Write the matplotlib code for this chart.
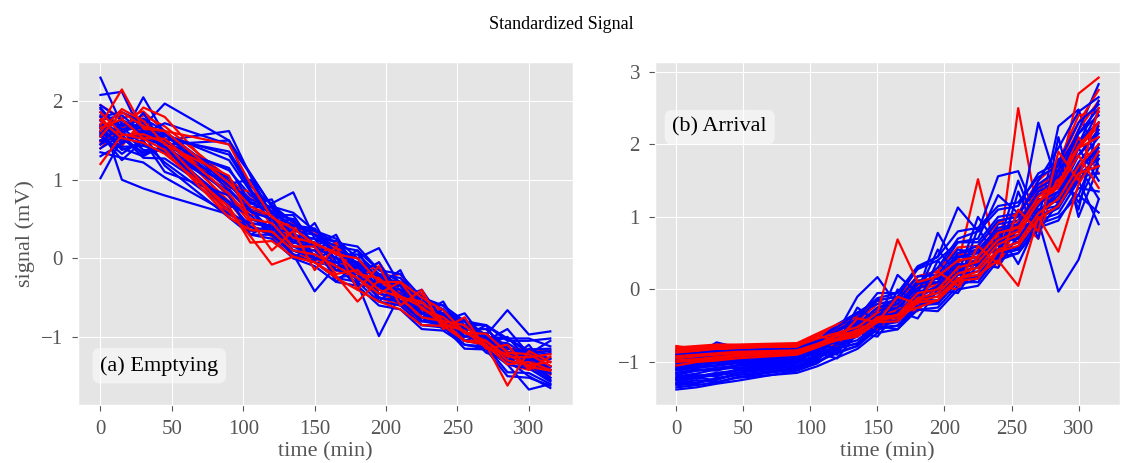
import numpy as np
import matplotlib
matplotlib.use("Agg")
import matplotlib.pyplot as plt

plt.style.use("ggplot")
plt.rcParams['font.family'] = ['Liberation Serif', 'DejaVu Serif']

# sampling times (min)
times = [0, 15, 30, 45, 90, 105, 120, 135, 150, 165, 180, 195, 210, 225, 240, 255, 270, 285, 300, 315]

# (a) Emptying
empty_blue = [
    [2.30, 1.70, 1.62, 1.38, 0.95, 0.62, 0.55, 0.28, 0.18, -0.05, -0.12, -0.40, -0.42, -0.70, -0.78, -0.95, -1.00, -1.22, -1.30, -1.52],
    [2.08, 2.12, 1.55, 1.50, 1.62, 1.05, 0.55, 0.50, 0.15, 0.18, -0.15, -0.22, -0.50, -0.55, -0.82, -0.85, -1.05, -1.08, -1.25, -1.28],
    [1.02, 1.52, 1.35, 1.38, 0.72, 0.60, 0.32, 0.30, -0.02, 0.02, -0.28, -0.30, -0.60, -0.65, -0.90, -0.92, -1.10, -1.12, -1.35, -1.38],
    [1.70, 1.55, 2.05, 1.58, 1.25, 0.85, 0.70, 0.84, 0.25, 0.22, -0.08, -0.12, -0.45, -0.48, -0.75, -0.80, -1.00, -1.02, -1.18, -1.22],
    [1.55, 1.62, 1.68, 1.97, 1.50, 1.08, 0.66, 0.58, 0.35, 0.25, 0.00, 0.13, -0.35, -0.45, -0.75, -0.78, -0.98, -0.66, -0.97, -0.93],
    [1.82, 1.00, 0.89, 0.80, 0.56, 0.40, 0.35, 0.10, 0.00, -0.15, -0.25, -0.50, -0.55, -0.85, -0.88, -1.05, -1.08, -1.30, -1.38, -1.55],
    [1.65, 1.38, 1.47, 1.22, 0.62, 0.35, 0.35, 0.05, -0.42, -0.10, -0.32, -0.99, -0.45, -0.75, -0.80, -1.05, -1.08, -1.35, -1.67, -1.60],
    [1.50, 1.66, 1.45, 1.35, 1.02, 0.70, 0.60, 0.25, 0.25, -0.10, -0.10, -0.40, -0.35, -0.60, -0.72, -0.95, -1.00, -1.25, -1.22, -1.38],
    [1.76, 1.82, 1.60, 1.58, 0.88, 0.60, 0.50, 0.30, 0.20, 0.00, -0.05, -0.30, -0.40, -0.65, -0.76, -1.00, -1.00, -1.15, -1.18, -1.28],
    [1.40, 1.57, 1.32, 1.42, 0.68, 0.55, 0.30, 0.25, -0.05, -0.10, -0.35, -0.35, -0.60, -0.70, -0.90, -0.92, -1.15, -1.20, -1.40, -1.42],
    [1.86, 1.68, 1.78, 1.62, 0.98, 0.75, 0.65, 0.35, 0.30, 0.05, 0.05, -0.20, -0.25, -0.55, -0.60, -0.90, -0.96, -1.20, -1.26, -1.38],
    [1.60, 1.48, 1.58, 1.18, 0.52, 0.30, 0.25, 0.00, -0.10, -0.30, -0.35, -0.60, -0.65, -0.90, -0.92, -1.10, -1.12, -1.45, -1.46, -1.60],
    [1.30, 1.46, 1.62, 1.48, 1.12, 0.80, 0.60, 0.40, 0.35, 0.20, 0.15, -0.15, -0.30, -0.55, -0.60, -0.80, -0.85, -1.02, -1.02, -1.12],
    [1.95, 1.76, 1.58, 1.72, 1.45, 1.07, 0.66, 0.45, 0.30, 0.20, -0.10, -0.20, -0.40, -0.50, -0.75, -0.80, -1.00, -1.02, -1.20, -1.18],
    [1.70, 1.62, 1.38, 1.37, 0.66, 0.62, 0.36, 0.34, 0.00, -0.05, -0.25, -0.35, -0.55, -0.60, -0.90, -0.92, -1.20, -1.30, -1.50, -1.65],
    [1.56, 1.33, 1.52, 1.44, 0.82, 0.50, 0.40, 0.20, 0.15, -0.25, -0.20, -0.50, -0.55, -0.80, -0.80, -1.05, -1.05, -1.30, -1.26, -1.42],
    [1.45, 1.72, 1.58, 1.56, 1.32, 0.88, 0.52, 0.28, 0.14, 0.00, -0.10, -0.35, -0.40, -0.70, -0.76, -0.95, -1.00, -1.25, -1.30, -1.52],
    [1.66, 1.55, 1.28, 1.27, 0.72, 0.40, 0.30, 0.05, -0.05, -0.25, -0.30, -0.55, -0.60, -0.85, -0.86, -1.15, -1.16, -1.50, -1.52, -1.62],
    [1.90, 1.64, 1.72, 1.58, 1.02, 0.65, 0.65, 0.30, 0.25, 0.10, 0.00, -0.25, -0.30, -0.50, -0.65, -0.90, -0.90, -1.15, -1.20, -1.32],
    [1.50, 1.42, 1.43, 1.36, 0.86, 0.60, 0.50, 0.15, 0.05, -0.10, -0.15, -0.40, -0.45, -0.75, -0.72, -1.00, -0.96, -1.20, -1.16, -1.15],
    [1.75, 1.48, 1.57, 1.43, 0.60, 0.30, 0.30, 0.10, 0.00, -0.05, -0.05, -0.45, -0.50, -0.70, -0.80, -1.05, -1.10, -1.25, -1.30, -1.47],
    [1.62, 1.76, 1.64, 1.62, 0.92, 0.72, 0.58, 0.42, 0.38, 0.05, -0.05, -0.25, -0.35, -0.65, -0.70, -0.95, -1.00, -1.30, -1.36, -1.52],
    [1.35, 1.28, 1.22, 1.03, 0.57, 0.45, 0.40, 0.10, 0.10, -0.15, -0.20, -0.50, -0.55, -0.80, -0.85, -1.10, -1.15, -1.35, -1.40, -1.57],
    [1.80, 1.86, 1.73, 1.52, 1.36, 0.92, 0.68, 0.46, 0.30, 0.15, 0.10, -0.15, -0.20, -0.50, -0.60, -0.85, -0.85, -1.05, -1.05, -1.02],
    [1.68, 1.40, 1.30, 1.45, 1.50, 0.85, 0.45, 0.50, 0.00, 0.10, -0.30, -0.20, -0.55, -0.50, -0.85, -0.80, -1.10, -1.00, -1.30, -1.20],
    [1.45, 1.60, 1.75, 1.35, 0.95, 1.00, 0.55, 0.55, 0.15, 0.30, -0.20, -0.05, -0.50, -0.40, -0.80, -0.70, -1.05, -0.90, -1.22, -1.05],
    [1.58, 1.25, 1.50, 1.10, 0.80, 0.30, 0.45, 0.00, 0.20, -0.30, -0.05, -0.55, -0.30, -0.80, -0.65, -1.05, -0.95, -1.35, -1.15, -1.55],
    [1.92, 1.58, 1.85, 1.42, 1.15, 0.70, 0.75, 0.20, 0.45, -0.05, 0.10, -0.35, -0.15, -0.70, -0.55, -1.00, -0.85, -1.30, -1.10, -1.45],
]
empty_red = [
    [1.70, 2.15, 1.65, 1.62, 1.45, 0.95, 0.52, 0.38, 0.18, 0.08, -0.20, -0.25, -0.50, -0.55, -0.80, -0.85, -1.10, -1.62, -1.18, -1.32],
    [1.95, 1.78, 1.87, 1.62, 0.78, 0.45, 0.40, 0.15, 0.10, -0.15, -0.20, -0.45, -0.55, -0.75, -0.80, -1.00, -1.00, -1.25, -1.28, -1.42],
    [1.20, 1.57, 1.58, 1.47, 0.60, 0.28, -0.08, 0.02, -0.05, -0.22, -0.55, -0.28, -0.48, -0.62, -0.84, -0.92, -1.14, -1.22, -1.38, -1.43],
    [1.60, 1.43, 1.77, 1.52, 0.88, 0.55, 0.55, 0.20, 0.20, -0.05, -0.10, -0.40, -0.45, -0.70, -0.72, -0.90, -0.96, -1.20, -1.22, -1.27],
    [1.86, 1.58, 1.52, 1.38, 0.52, 0.36, 0.34, 0.10, 0.05, -0.10, -0.25, -0.45, -0.30, -0.50, -0.66, -0.95, -1.05, -1.30, -1.36, -1.32],
    [1.50, 1.72, 1.58, 1.52, 0.72, 0.62, 0.50, 0.25, 0.15, 0.00, -0.05, -0.25, -0.20, -0.60, -0.70, -1.00, -1.00, -1.20, -1.26, -1.37],
    [1.76, 1.53, 1.47, 1.33, 0.66, 0.20, 0.22, 0.02, -0.05, -0.25, -0.40, -0.55, -0.65, -0.85, -0.86, -1.05, -1.10, -1.35, -1.32, -1.42],
    [1.40, 1.66, 1.82, 1.68, 1.02, 0.76, 0.64, 0.36, 0.34, 0.10, 0.00, -0.30, -0.35, -0.60, -0.66, -0.90, -0.90, -1.15, -1.16, -1.17],
    [1.66, 1.77, 1.53, 1.52, 0.82, 0.50, 0.45, 0.15, 0.15, -0.20, -0.15, -0.40, -0.50, -0.75, -0.80, -1.05, -1.05, -1.25, -1.26, -1.22],
    [1.80, 1.48, 1.67, 1.43, 0.56, 0.42, 0.28, 0.05, 0.00, -0.15, -0.25, -0.50, -0.60, -0.80, -0.80, -1.00, -1.00, -1.30, -1.36, -1.47],
    [1.55, 1.86, 1.68, 1.62, 0.96, 0.66, 0.54, 0.26, 0.20, 0.05, 0.00, -0.30, -0.30, -0.65, -0.75, -0.95, -0.96, -1.20, -1.22, -1.37],
    [1.70, 1.58, 1.52, 1.53, 0.72, 0.36, 0.34, 0.16, 0.10, -0.10, -0.15, -0.45, -0.50, -0.75, -0.80, -1.05, -1.06, -1.35, -1.42, -1.42],
    [1.62, 1.90, 1.75, 1.45, 1.05, 0.48, 0.10, 0.35, -0.15, 0.15, -0.40, -0.10, -0.60, -0.40, -0.90, -0.75, -1.15, -1.10, -1.42, -1.25],
    [1.48, 1.62, 1.92, 1.80, 0.90, 0.85, 0.40, 0.45, 0.00, 0.20, -0.30, -0.05, -0.45, -0.45, -0.78, -0.88, -1.02, -1.18, -1.30, -1.48],
]

# (b) Arrival
arrival_blue = [
    [-1.38, -1.35, -1.30, -1.26, -1.12, -1.02, -0.82, -0.74, -0.50, -0.45, -0.18, -0.20, 0.15, 0.18, 0.52, 0.58, 0.98, 1.12, 1.58, 1.80],
    [-1.30, -1.25, -1.28, -1.21, -1.10, -0.98, -0.72, -0.65, -0.40, -0.40, -0.12, -0.05, 0.25, 0.30, 0.65, 0.70, 1.10, 1.25, 1.75, 2.10],
    [-1.20, -1.16, -1.10, -1.08, -1.00, -0.92, -0.60, -0.10, 0.17, -0.22, -0.05, 0.78, 0.30, 0.42, 0.75, 0.80, 1.15, 1.45, 1.95, 2.45],
    [-0.95, -0.90, -0.73, -0.80, -0.85, -0.76, -0.55, -0.35, -0.12, -0.05, 0.30, 0.45, 1.13, 0.80, 1.56, 1.63, 0.95, 2.25, 2.48, 1.70],
    [-1.10, -1.06, -1.05, -1.00, -0.95, -0.86, -0.68, -0.62, -0.40, -0.35, -0.08, 0.05, 0.30, 0.35, 0.68, 0.85, 2.30, 1.40, 1.30, 2.00],
    [-1.15, -1.10, -1.12, -1.05, -0.98, -0.86, -0.80, -0.60, -0.55, -0.30, -0.25, 0.05, 0.10, 0.40, 0.45, 0.85, 0.95, -0.03, 0.41, 1.24],
    [-1.05, -1.00, -0.98, -0.95, -0.90, -0.82, -0.72, -0.58, -0.30, -0.25, 0.12, 0.15, 0.45, 0.45, 0.90, 0.95, 1.30, 1.55, 2.20, 2.83],
    [-1.25, -1.20, -1.15, -1.12, -1.05, -0.99, -0.88, -0.78, -0.55, -0.50, -0.28, -0.25, 0.05, 0.15, 0.48, 0.55, 0.95, 1.05, 1.50, 0.90],
    [-0.98, -0.95, -0.92, -0.90, -0.85, -0.72, -0.48, -0.32, -0.20, -0.15, 0.18, 0.25, 0.65, 0.65, 1.00, 1.05, 1.45, 1.65, 2.00, 2.60],
    [-1.32, -1.30, -1.22, -1.18, -1.08, -1.01, -0.86, -0.78, -0.50, -0.55, -0.22, -0.20, 0.10, 0.10, 0.45, 0.50, 0.90, 1.00, 1.30, 1.06],
    [-1.08, -1.05, -1.00, -0.98, -0.92, -0.82, -0.62, -0.48, -0.25, -0.20, 0.08, 0.10, 0.50, 0.55, 0.85, 0.90, 1.35, 1.50, 2.05, 2.30],
    [-1.18, -1.12, -1.10, -1.05, -0.95, -0.89, -0.70, -0.58, -0.35, -0.35, -0.02, 0.00, 0.30, 0.40, 0.75, 0.65, 1.05, 1.25, 1.95, 1.50],
    [-0.92, -0.88, -0.85, -0.85, -0.82, -0.72, -0.58, -0.42, -0.15, -0.30, 0.08, 0.30, 0.70, 0.80, 1.10, 1.15, 1.60, 1.75, 2.30, 2.55],
    [-1.28, -1.22, -1.25, -1.15, -1.05, -0.94, -0.78, -0.70, -0.48, -0.42, -0.15, -0.15, 0.15, 0.20, 0.55, 0.65, 1.05, 1.30, 1.85, 2.20],
    [-1.02, -0.98, -0.95, -0.92, -0.88, -0.80, -0.66, -0.48, -0.25, -0.15, 0.18, 0.20, 0.55, 0.50, 0.80, 0.35, 0.95, 1.65, 1.20, 1.80],
    [-1.22, -1.18, -1.20, -1.10, -1.02, -0.92, -0.84, -0.62, -0.45, -0.35, -0.12, 0.05, 0.40, 0.45, 0.55, 0.85, 1.25, 1.20, 1.70, 1.90],
    [-1.12, -1.08, -1.05, -1.02, -0.96, -0.84, -0.66, -0.52, -0.30, -0.20, 0.08, 0.15, 0.50, 0.60, 0.95, 1.00, 1.50, 1.95, 2.45, 2.65],
    [-1.35, -1.32, -1.28, -1.22, -1.15, -1.06, -0.94, -0.82, -0.60, -0.55, -0.28, -0.30, 0.00, 0.05, 0.40, 0.50, 0.85, 0.95, 1.40, 1.35],
    [-0.96, -0.94, -0.90, -0.90, -0.86, -0.74, -0.56, -0.40, -0.05, -0.05, 0.32, 0.45, 0.80, 0.85, 1.15, 1.20, 1.55, 1.70, 2.15, 2.40],
    [-1.15, -1.12, -1.08, -1.05, -1.00, -0.91, -0.76, -0.65, -0.42, -0.38, -0.12, -0.10, 0.20, 0.25, 0.70, 0.75, 1.20, 1.35, 1.85, 2.15],
    [-1.05, -1.02, -1.00, -0.96, -0.92, -0.84, -0.60, -0.52, -0.35, -0.25, 0.02, 0.10, 0.45, 0.50, 0.80, 0.90, 1.30, 1.40, 1.70, 1.25],
    [-1.25, -1.22, -1.18, -1.15, -1.06, -0.96, -0.80, -0.75, -0.52, -0.50, -0.20, -0.18, 0.15, 0.15, 0.50, 0.55, 1.00, 1.15, 1.65, 1.95],
    [-0.90, -0.88, -0.86, -0.84, -0.80, -0.70, -0.52, -0.32, -0.15, -0.10, 0.28, 0.40, 0.65, 0.70, 1.30, 1.05, 1.40, 1.55, 2.15, 2.50],
    [-1.10, -1.08, -1.05, -1.00, -0.95, -0.86, -0.70, -0.60, -0.38, -0.32, -0.05, 0.00, 0.35, 0.35, 0.65, 0.70, 1.10, 1.15, 1.55, 1.60],
    [-1.00, -0.98, -0.95, -0.93, -0.90, -0.70, -0.75, -0.25, -0.45, 0.20, -0.05, 0.55, 0.20, 1.00, 0.60, 1.50, 0.80, 1.80, 1.10, 2.30],
    [-1.22, -1.20, -1.16, -1.12, -1.02, -0.80, -0.90, -0.40, -0.60, 0.00, -0.20, 0.40, 0.05, 0.85, 0.40, 1.35, 0.70, 2.10, 1.00, 1.70],
    [-1.06, -1.04, -1.02, -0.99, -0.94, -0.75, -0.82, -0.45, -0.50, -0.10, -0.15, 0.20, 0.20, 0.55, 0.55, 1.05, 1.05, 1.35, 1.60, 2.00],
    [-1.30, -1.28, -1.24, -1.18, -1.10, -0.88, -0.95, -0.60, -0.65, -0.30, -0.40, 0.00, -0.05, 0.35, 0.30, 0.75, 0.80, 1.20, 1.50, 1.85],
]
arrival_red = [
    [-0.78, -0.82, -0.80, -0.80, -0.78, -0.68, -0.60, -0.52, -0.32, 0.69, 0.10, 0.18, 0.40, 0.45, 0.78, 0.85, 1.28, 1.45, 1.98, 2.30],
    [-0.85, -0.86, -0.84, -0.82, -0.80, -0.65, -0.52, -0.48, -0.28, -0.20, 0.05, 0.10, 0.35, 1.52, 0.40, 2.50, 1.00, 1.45, 1.85, 2.20],
    [-0.95, -0.92, -0.90, -0.88, -0.85, -0.76, -0.68, -0.58, -0.40, -0.40, -0.15, -0.10, 0.15, 0.20, 0.40, 0.05, 1.00, 0.52, 1.45, 1.90],
    [-0.90, -0.88, -0.86, -0.85, -0.82, -0.73, -0.60, -0.52, -0.35, -0.30, -0.08, 0.00, 0.28, 0.35, 0.68, 0.80, 1.20, 1.55, 2.70, 2.92],
    [-1.05, -1.00, -0.98, -0.95, -0.90, -0.80, -0.68, -0.62, -0.45, -0.35, -0.25, -0.15, 0.15, 0.25, 0.55, 0.65, 1.05, 1.25, 1.70, 2.00],
    [-0.82, -0.80, -0.78, -0.78, -0.76, -0.63, -0.52, -0.44, -0.20, -0.15, 0.12, 0.15, 0.48, 0.50, 0.82, 0.95, 1.35, 1.65, 2.20, 2.60],
    [-0.98, -0.96, -0.94, -0.90, -0.86, -0.77, -0.62, -0.60, -0.38, -0.36, -0.12, -0.05, 0.22, 0.30, 0.62, 0.75, 1.22, 1.40, 1.85, 1.40],
    [-0.88, -0.86, -0.82, -0.80, -0.78, -0.71, -0.66, -0.55, -0.32, -0.28, 0.02, 0.05, 0.32, 0.40, 0.72, 0.90, 1.40, 1.70, 2.30, 2.75],
    [-1.00, -0.98, -0.96, -0.92, -0.88, -0.79, -0.70, -0.65, -0.45, -0.44, -0.18, -0.15, 0.12, 0.15, 0.52, 0.60, 0.98, 1.15, 1.60, 1.70],
    [-0.80, -0.78, -0.76, -0.76, -0.74, -0.61, -0.48, -0.38, -0.15, -0.10, 0.18, 0.25, 0.58, 0.60, 0.92, 1.05, 1.50, 1.75, 2.40, 2.45],
    [-0.92, -0.90, -0.88, -0.86, -0.84, -0.75, -0.64, -0.57, -0.42, -0.35, -0.05, 0.00, 0.30, 0.38, 0.68, 0.80, 1.20, 1.45, 1.95, 2.10],
    [-0.86, -0.84, -0.83, -0.82, -0.80, -0.71, -0.55, -0.50, -0.28, -0.22, 0.05, 0.08, 0.38, 0.45, 0.75, 0.88, 1.30, 1.50, 2.10, 1.60],
    [-0.84, -0.83, -0.81, -0.80, -0.79, -0.64, -0.70, -0.40, -0.45, -0.10, -0.20, 0.25, 0.05, 0.60, 0.35, 1.10, 0.80, 1.90, 1.50, 2.50],
    [-0.96, -0.94, -0.92, -0.90, -0.86, -0.74, -0.78, -0.50, -0.55, -0.25, -0.30, 0.05, 0.00, 0.45, 0.30, 0.95, 0.70, 1.60, 1.95, 2.25],
]

fig = plt.figure(figsize=(11.22, 4.63), dpi=100)
ax1 = fig.add_axes([0.0695, 0.125, 0.441, 0.741])
ax2 = fig.add_axes([0.584, 0.125, 0.414, 0.741])

panels = [
    (ax1, empty_blue, empty_red, "(a) Emptying", 0.045, 0.115),
    (ax2, arrival_blue, arrival_red, "(b) Arrival", 0.037, 0.81),
]
for ax, blues, reds, label, tx, ty in panels:
    # interleave the two groups so neither colour sits entirely on top
    for i in range(max(len(blues), len(reds))):
        if i < len(blues):
            ax.plot(times, blues[i], color="blue", lw=1.6)
        if i < len(reds) and i % 2 == 1:
            ax.plot(times, reds[i], color="red", lw=1.6)
    for i in range(0, len(reds), 2):
        ax.plot(times, reds[i], color="red", lw=1.6)
    ax.set_xlabel("time (min)", fontsize=16, labelpad=2)
    ax.tick_params(labelsize=15, length=4, pad=7)
    ax.text(tx, ty, label, transform=ax.transAxes, fontsize=16, va="center", ha="left",
            bbox=dict(boxstyle="round,pad=0.35", facecolor="white", edgecolor="none", alpha=0.5))

ax1.set_ylabel("signal (mV)", fontsize=16)
ax1.set_yticks([-1, 0, 1, 2])
ax2.set_yticks([-1, 0, 1, 2, 3])
fig.suptitle("Standardized Signal", fontsize=13, y=0.965)

fig.savefig("out.png", dpi=100)
